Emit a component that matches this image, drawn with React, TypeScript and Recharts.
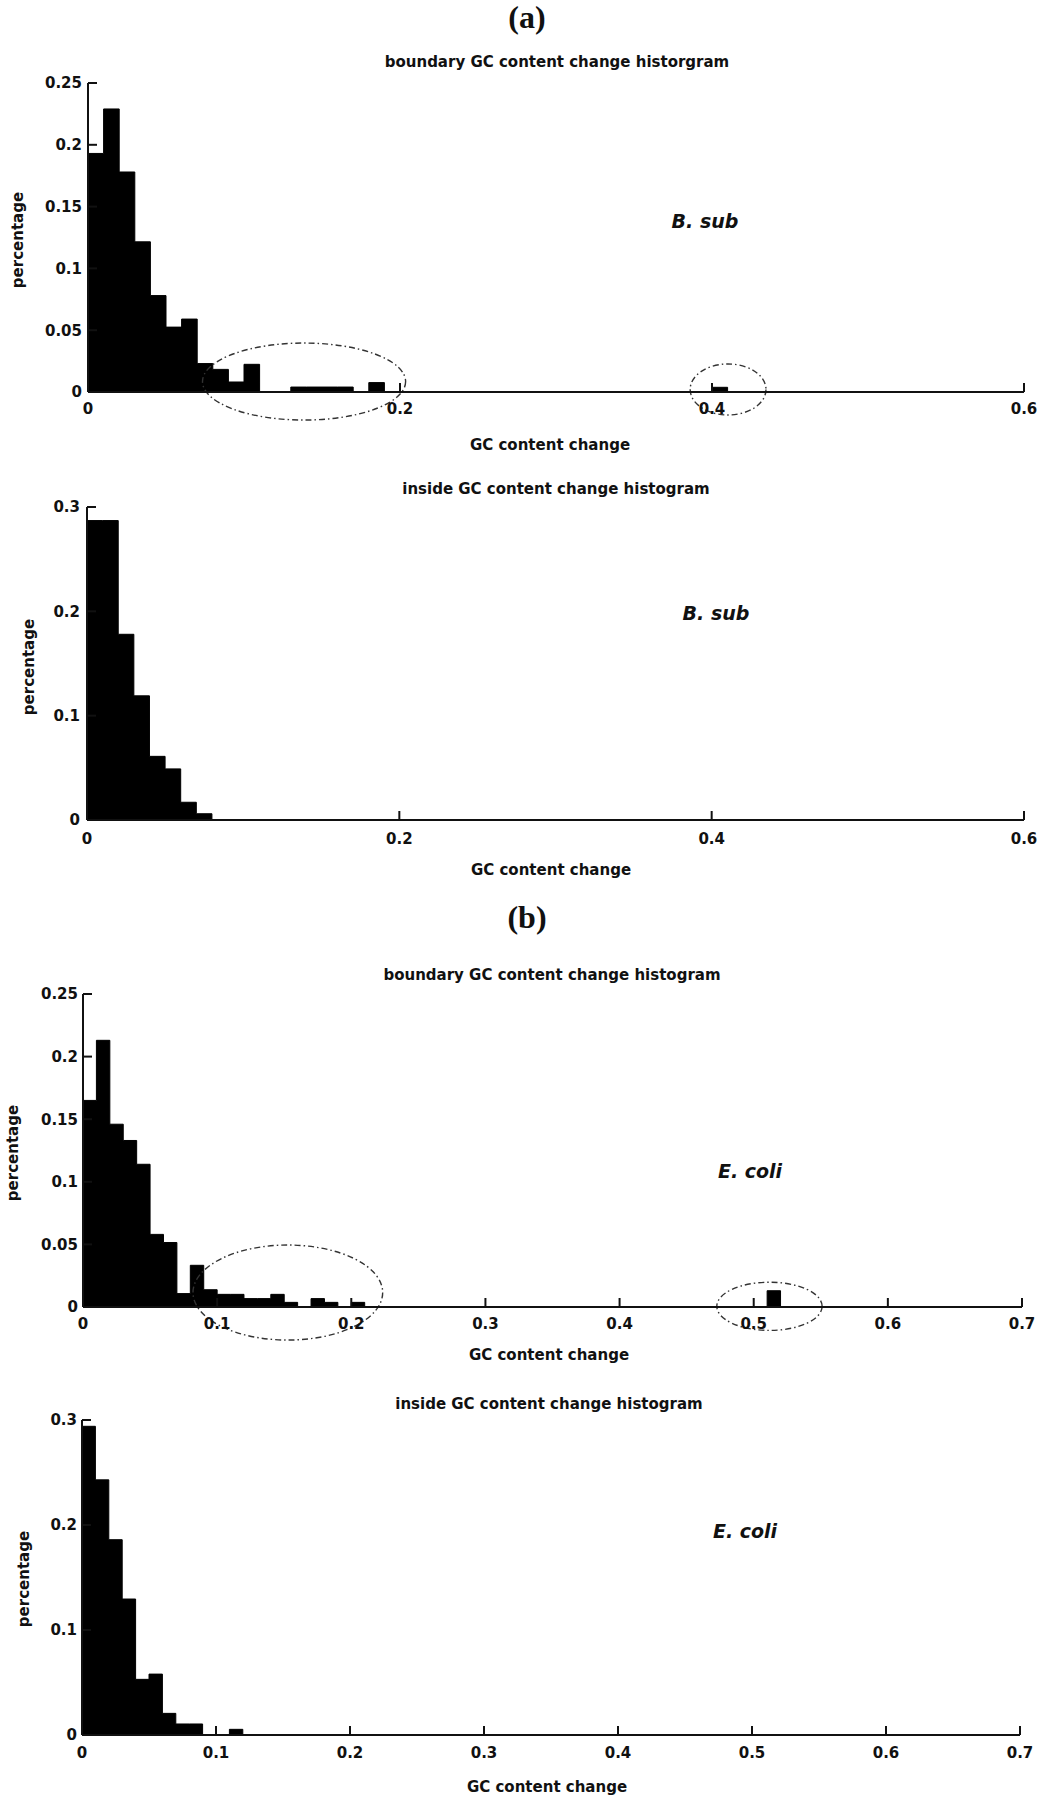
import React from 'react';
import { ComposedChart, Area, XAxis, YAxis, ReferenceArea } from 'recharts';

// ---------- DATA (histogram bins of width 0.01: left edge -> height) ----------
const bsubBoundaryEdges = [0, 0.01, 0.02, 0.03, 0.04, 0.05, 0.06, 0.07, 0.08, 0.09, 0.1, 0.11, 0.12, 0.13, 0.14, 0.15, 0.16, 0.17, 0.18, 0.19, 0.2, 0.4, 0.41];
const bsubBoundaryValues = [0.193, 0.229, 0.178, 0.1215, 0.078, 0.0525, 0.059, 0.023, 0.0183, 0.0081, 0.0224, 0, 0, 0.004, 0.004, 0.004, 0.004, 0, 0.0076, 0, 0, 0.0038, 0];

const bsubInsideEdges = [0, 0.01, 0.02, 0.03, 0.04, 0.05, 0.06, 0.07, 0.08];
const bsubInsideValues = [0.287, 0.287, 0.178, 0.119, 0.061, 0.049, 0.017, 0.006, 0];

const ecoliBoundaryEdges = [0, 0.01, 0.02, 0.03, 0.04, 0.05, 0.06, 0.07, 0.08, 0.09, 0.1, 0.11, 0.12, 0.13, 0.14, 0.15, 0.16, 0.17, 0.18, 0.19, 0.2, 0.21, 0.51, 0.52];
const ecoliBoundaryValues = [0.165, 0.213, 0.146, 0.133, 0.114, 0.058, 0.0515, 0.0107, 0.0333, 0.0138, 0.0101, 0.0101, 0.0067, 0.0067, 0.0101, 0.0037, 0, 0.0067, 0.0037, 0, 0.0037, 0, 0.013, 0];

const ecoliInsideEdges = [0, 0.01, 0.02, 0.03, 0.04, 0.05, 0.06, 0.07, 0.08, 0.09, 0.1, 0.11, 0.12];
const ecoliInsideValues = [0.294, 0.243, 0.186, 0.1295, 0.053, 0.058, 0.0206, 0.0105, 0.0105, 0, 0, 0.0054, 0];

// ---------- Axis ticks ----------
const xTicksA = [0, 0.2, 0.4, 0.6];
const xTicksB = [0, 0.1, 0.2, 0.3, 0.4, 0.5, 0.6, 0.7];
const yTicks025 = [0, 0.05, 0.1, 0.15, 0.2, 0.25];
const yTicks03 = [0, 0.1, 0.2, 0.3];

// ---------- Highlight ellipses (data coordinates) ----------
const bsubBoundaryEllipses = [
  { x1: 0.0734, x2: 0.2036, y1: -0.0227, y2: 0.0396 },
  { x1: 0.386, x2: 0.4346, y1: -0.0186, y2: 0.0227 },
];
const ecoliBoundaryEllipses = [
  { x1: 0.082, x2: 0.2234, y1: -0.0264, y2: 0.0495 },
  { x1: 0.4725, x2: 0.551, y1: -0.0187, y2: 0.0198 },
];

// ---------- Texts ----------
const titleBoundaryA = 'boundary GC content change historgram';
const titleInside = 'inside GC content change histogram';
const titleBoundaryB = 'boundary GC content change histogram';
const xLabel = 'GC content change';
const yLabel = 'percentage';

const INK = '#111';
const FONT = 'DejaVu Sans';

const EllipseShape = (p: any) => (
  <ellipse
    cx={p.x + p.width / 2}
    cy={p.y + p.height / 2}
    rx={Math.abs(p.width) / 2}
    ry={Math.abs(p.height) / 2}
    fill="none"
    stroke="#333"
    strokeWidth={1.4}
    strokeDasharray="6 3 1.5 3"
  />
);

type PlotBox = { left: number; right: number; top: number; bottom: number };

function Panel(props: {
  edges: number[];
  values: number[];
  xDomain: [number, number];
  xTicks: number[];
  yDomain: [number, number];
  yTicks: number[];
  ellipses: { x1: number; x2: number; y1: number; y2: number }[];
  plot: PlotBox;
  yTickMargin: number;
  xTickMargin: number;
}) {
  const { edges, values, xDomain, xTicks, yDomain, yTicks, ellipses, plot, yTickMargin, xTickMargin } = props;
  const data = edges.map((x, i) => ({ x, y: values[i] }));
  const mt = 12;
  const xh = 34;
  const height = mt + (plot.bottom - plot.top) + xh;
  const tickStyle = { fill: INK, fontSize: 15, fontWeight: 'bold', fontFamily: FONT };
  const lineStyle = { stroke: INK, strokeWidth: 2 };
  return (
    <div style={{ position: 'absolute', left: 0, top: plot.top - mt }}>
      <ComposedChart
        width={1039}
        height={height}
        data={data}
        margin={{ top: mt, right: 1039 - plot.right, bottom: 0, left: 0 }}
      >
        <XAxis
          xAxisId="b"
          dataKey="x"
          type="number"
          domain={xDomain}
          ticks={xTicks}
          interval={0}
          orientation="bottom"
          height={xh}
          tickSize={-9}
          tickMargin={xTickMargin}
          tick={tickStyle}
          axisLine={lineStyle}
          tickLine={lineStyle}
          stroke={INK}
        />
        <XAxis
          xAxisId="t"
          type="number"
          domain={xDomain}
          ticks={xTicks}
          interval={0}
          orientation="top"
          height={0}
          tickSize={-9}
          tick={false}
          axisLine={lineStyle}
          tickLine={lineStyle}
          stroke={INK}
        />
        <YAxis
          yAxisId="l"
          type="number"
          domain={yDomain}
          ticks={yTicks}
          interval={0}
          width={plot.left}
          tickSize={-9}
          tickMargin={yTickMargin}
          tick={tickStyle}
          axisLine={lineStyle}
          tickLine={lineStyle}
          stroke={INK}
        />
        <YAxis
          yAxisId="r"
          orientation="right"
          type="number"
          domain={yDomain}
          ticks={yTicks}
          interval={0}
          width={0}
          tickSize={-9}
          tick={false}
          axisLine={lineStyle}
          tickLine={lineStyle}
          stroke={INK}
        />
        <Area
          xAxisId="b"
          yAxisId="l"
          type="stepAfter"
          dataKey="y"
          fill="#000"
          fillOpacity={1}
          stroke="#000"
          strokeWidth={1}
          dot={false}
          activeDot={false}
          isAnimationActive={false}
        />
        {ellipses.map((e, i) => (
          <ReferenceArea
            key={i}
            xAxisId="b"
            yAxisId="l"
            x1={e.x1}
            x2={e.x2}
            y1={e.y1}
            y2={e.y2}
            ifOverflow="visible"
            shape={EllipseShape}
          />
        ))}
      </ComposedChart>
    </div>
  );
}

function Txt(p: { x: number; y: number; children: string; size?: number; italic?: boolean; serif?: boolean }) {
  return (
    <text
      x={p.x}
      y={p.y}
      textAnchor="middle"
      fill={INK}
      fontFamily={p.serif ? 'Liberation Serif' : FONT}
      fontWeight="bold"
      fontStyle={p.italic ? 'italic' : 'normal'}
      fontSize={p.size || 15}
    >
      {p.children}
    </text>
  );
}

function VTxt(p: { x: number; y: number; children: string }) {
  return (
    <text
      transform={`translate(${p.x},${p.y}) rotate(-90)`}
      textAnchor="middle"
      fill={INK}
      fontFamily={FONT}
      fontWeight="bold"
      fontSize={15}
    >
      {p.children}
    </text>
  );
}

export default function App() {
  return (
    <div style={{ position: 'absolute', left: 0, top: 0, width: 1039, height: 1800, background: '#fff' }}>
      <Panel
        edges={bsubBoundaryEdges}
        values={bsubBoundaryValues}
        xDomain={[0, 0.6]}
        xTicks={xTicksA}
        yDomain={[0, 0.25]}
        yTicks={yTicks025}
        ellipses={bsubBoundaryEllipses}
        plot={{ left: 88, right: 1024, top: 83, bottom: 392 }}
        yTickMargin={15}
        xTickMargin={20}
      />
      <Panel
        edges={bsubInsideEdges}
        values={bsubInsideValues}
        xDomain={[0, 0.6]}
        xTicks={xTicksA}
        yDomain={[0, 0.3]}
        yTicks={yTicks03}
        ellipses={[]}
        plot={{ left: 87, right: 1024, top: 507, bottom: 820 }}
        yTickMargin={16}
        xTickMargin={22}
      />
      <Panel
        edges={ecoliBoundaryEdges}
        values={ecoliBoundaryValues}
        xDomain={[0, 0.7]}
        xTicks={xTicksB}
        yDomain={[0, 0.25]}
        yTicks={yTicks025}
        ellipses={ecoliBoundaryEllipses}
        plot={{ left: 83, right: 1022, top: 994, bottom: 1307 }}
        yTickMargin={14}
        xTickMargin={20}
      />
      <Panel
        edges={ecoliInsideEdges}
        values={ecoliInsideValues}
        xDomain={[0, 0.7]}
        xTicks={xTicksB}
        yDomain={[0, 0.3]}
        yTicks={yTicks03}
        ellipses={[]}
        plot={{ left: 82, right: 1020, top: 1420, bottom: 1735 }}
        yTickMargin={14}
        xTickMargin={21}
      />
      <svg width={1039} height={1800} style={{ position: 'absolute', left: 0, top: 0, pointerEvents: 'none' }}>
        <Txt x={527} y={28} size={32} serif>(a)</Txt>
        <Txt x={527} y={928} size={32} serif>(b)</Txt>

        <Txt x={557} y={67}>{titleBoundaryA}</Txt>
        <Txt x={556} y={494}>{titleInside}</Txt>
        <Txt x={552} y={980}>{titleBoundaryB}</Txt>
        <Txt x={549} y={1409}>{titleInside}</Txt>

        <Txt x={550} y={450}>{xLabel}</Txt>
        <Txt x={551} y={875}>{xLabel}</Txt>
        <Txt x={549} y={1360}>{xLabel}</Txt>
        <Txt x={547} y={1792}>{xLabel}</Txt>

        <VTxt x={23} y={240}>{yLabel}</VTxt>
        <VTxt x={34} y={667}>{yLabel}</VTxt>
        <VTxt x={18} y={1153}>{yLabel}</VTxt>
        <VTxt x={29} y={1579}>{yLabel}</VTxt>

        <Txt x={705} y={228} size={19} italic>B. sub</Txt>
        <Txt x={716} y={620} size={19} italic>B. sub</Txt>
        <Txt x={750} y={1178} size={19} italic>E. coli</Txt>
        <Txt x={745} y={1538} size={19} italic>E. coli</Txt>
      </svg>
    </div>
  );
}
